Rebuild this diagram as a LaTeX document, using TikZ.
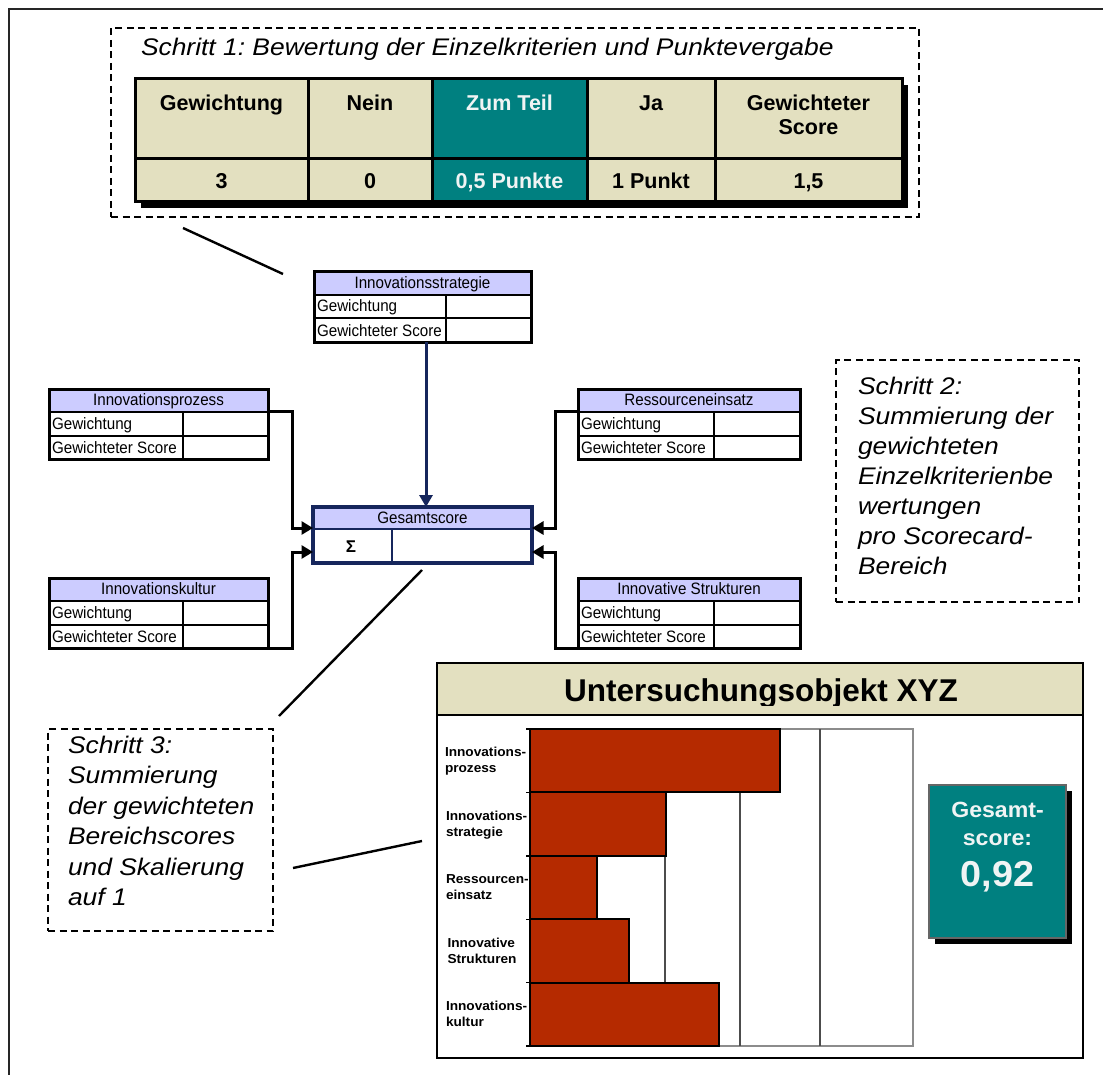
\documentclass[tikz,border=0pt]{standalone}
\usepackage{fontspec}
\setmainfont{Liberation Sans}
\newfontfamily\notefont[FakeStretch=1.1]{Liberation Sans}
\newfontfamily\areafont[FakeStretch=0.92]{Liberation Sans}
\newfontfamily\chartfont[FakeStretch=1.05]{Liberation Sans}
\usetikzlibrary{arrows.meta}
\frenchspacing

\definecolor{tablebeige}{RGB}{227,224,192}
\definecolor{scoreteal}{RGB}{0,128,128}
\definecolor{areablue}{RGB}{204,204,255}
\definecolor{sumnavy}{RGB}{22,38,92}
\definecolor{barred}{RGB}{181,42,0}
\definecolor{paletext}{RGB}{240,244,244}

\tikzset{
  every node/.style={inner sep=0pt, outer sep=0pt},
  pageframe/.style={draw=black!85, line width=2.8pt},
  notebox/.style={draw=black, line width=1.8pt, dash pattern=on 7pt off 4.5pt},
  notetext/.style={font=\notefont\itshape\fontsize{24}{30}\selectfont},
  tablerule/.style={draw=black, line width=3pt},
  tablehead/.style={anchor=base, font=\bfseries\fontsize{21.5}{24}\selectfont},
  areahead/.style={fill=areablue},
  arearule/.style={draw=black, line width=2pt},
  areaedge/.style={draw=black, line width=2.8pt},
  areaframe/.style={draw=black, line width=3pt},
  areatitle/.style={anchor=base, font=\areafont\fontsize{16.5}{18}\selectfont},
  areacell/.style={anchor=base west, font=\areafont\fontsize{16.5}{18}\selectfont},
  sumrule/.style={draw=sumnavy, line width=2.8pt},
  sumframe/.style={draw=sumnavy, line width=3.4pt},
  sumarrow/.style={draw=sumnavy, line width=3pt, -{Triangle[length=12pt,width=13pt]}},
  feed/.style={draw=black, line width=3pt, -{Triangle[length=11.5pt,width=13pt]}},
  pointer/.style={draw=black, line width=2.4pt},
  chartframe/.style={draw=black, line width=2.8pt},
  plotbox/.style={draw=black!45, line width=1.4pt},
  gridline/.style={draw=black!70, line width=1.4pt},
  bar/.style={fill=barred, draw=black, line width=2pt},
  barlabel/.style={anchor=base west, font=\chartfont\bfseries\fontsize{13}{16}\selectfont},
  scorebox/.style={fill=scoreteal, draw=black!60, line width=1.8pt},
  scoretext/.style={anchor=base, text=paletext, font=\chartfont\bfseries\fontsize{22}{26}\selectfont},
}

% category box: name, left, top, width, label column width, title
\newcommand\areabox[6]{%
  \fill[areahead] (#2,#3) rectangle ({#2+#4},{#3+23});
  \fill[white] (#2,{#3+23}) rectangle ({#2+#4},{#3+70});
  \draw[arearule] (#2,{#3+46.5}) -- ({#2+#4},{#3+46.5});
  \draw[arearule] ({#2+#5},{#3+23}) -- ({#2+#5},{#3+70});
  \draw[areaedge] (#2,{#3+23}) -- ({#2+#4},{#3+23});
  \node[areaframe, minimum width=#4, minimum height=70, anchor=north west] (#1) at (#2,#3) {};
  \node[areatitle] (#1-title) at ({#2+#4/2},{#3+16.5}) {#6};
  \node[areacell] (#1-weight) at ({#2+3},{#3+40}) {Gewichtung};
  \node[areacell] (#1-score) at ({#2+3},{#3+64}) {Gewichteter Score};
  \coordinate (#1-hr) at ({#2+#4},{#3+22});
  \coordinate (#1-hl) at (#2,{#3+22});
}

\begin{document}
\begin{tikzpicture}[x=1pt,y=-1pt]
\useasboundingbox (0,0) rectangle (1103,1075);
\fill[white] (0,0) rectangle (1103,1075);

% page frame, open to the right and bottom
\draw[pageframe] (1103,9) -- (9,9) -- (9,1075);

% ---- step 1: scoring table ----
\node[notebox, minimum width=808, minimum height=189, anchor=north west] (step1) at (111,28) {};
\node[notetext, anchor=base west] (step1-text) at (141,56) {Schritt 1: Bewertung der Einzelkriterien und Punktevergabe};

\fill[black] (141,85) rectangle (908,208);
\fill[tablebeige] (135,79) rectangle (902,202);
\fill[scoreteal] (432,79) rectangle (587,202);
\draw[tablerule] (135,79) rectangle (902,202)
  (135,159) -- (902,159)
  (308,79) -- (308,202) (432,79) -- (432,202)
  (587,79) -- (587,202) (715,79) -- (715,202);

\node[tablehead] (h-weight) at (221.5,111) {Gewichtung};
\node[tablehead] (h-no) at (370,111) {Nein};
\node[tablehead, text=paletext] (h-part) at (509.5,111) {Zum Teil};
\node[tablehead] (h-yes) at (651,111) {Ja};
\node[tablehead] (h-score1) at (808.5,111) {Gewichteter};
\node[tablehead] (h-score2) at (808.5,135) {Score};
\node[tablehead] (v-weight) at (221.5,189) {3};
\node[tablehead] (v-no) at (370,189) {0};
\node[tablehead, text=paletext] (v-part) at (509.5,189) {0,5 Punkte};
\node[tablehead] (v-yes) at (651,189) {1 Punkt};
\node[tablehead] (v-score) at (808.5,189) {1,5};

\coordinate (p1a) at (183,228);
\coordinate (p1b) at (283,274);
\draw[pointer] (p1a) -- (p1b);

% ---- scorecard areas ----
\areabox{strat}{314}{272}{217}{132}{Innovationsstrategie}
\areabox{proz}{49}{389}{219}{134}{Innovationsprozess}
\areabox{kult}{49}{578}{219}{134}{Innovationskultur}
\areabox{ress}{578}{389}{222}{136}{Ressourceneinsatz}
\areabox{struk}{578}{578}{222}{136}{Innovative Strukturen}

% ---- total score ----
\fill[areablue] (313,507) rectangle (532,529);
\fill[white] (313,529) rectangle (532,563);
\draw[sumrule] (313,529) -- (532,529) (392,529) -- (392,563);
\node[sumframe, minimum width=219, minimum height=56, anchor=north west] (gs) at (313,507) {};
\node[areatitle] (gs-title) at (422.5,523) {Gesamtscore};
\node[anchor=base, font=\bfseries\fontsize{17}{18}\selectfont] (gs-sigma) at (351,552) {Σ};
\coordinate (gs-top) at (426,507);
\coordinate (gs-in1) at (313,528);
\coordinate (gs-in2) at (313,552);
\coordinate (gs-in3) at (532,528);
\coordinate (gs-in4) at (532,552);
\coordinate (gs-low) at (422,570);

\draw[sumarrow] (strat.south -| gs-top) -- (gs-top);
\draw[feed] (proz-hr) -- ++(24,0) |- (gs-in1);
\draw[feed] (kult.south east) -- ++(24,0) |- (gs-in2);
\draw[feed] (ress-hl) -- ++(-23,0) |- (gs-in3);
\draw[feed] (struk.south west) -- ++(-23,0) |- (gs-in4);

% ---- step 2 note ----
\node[notebox, minimum width=243, minimum height=242, anchor=north west] (step2) at (836,360) {};
\node[notetext, anchor=base west] (step2-text) at (858,394)
  {\vtop{\baselineskip=30.1pt\lineskiplimit=-100pt
   \hbox{Schritt 2:}\hbox{Summierung der}\hbox{gewichteten}\hbox{Einzelkriterienbe}%
   \hbox{wertungen}\hbox{pro Scorecard-}\hbox{Bereich}}};

% ---- step 3 note ----
\node[notebox, minimum width=225, minimum height=202, anchor=north west] (step3) at (48,729) {};
\node[notetext, anchor=base west] (step3-text) at (68,753.5)
  {\vtop{\baselineskip=30.4pt\lineskiplimit=-100pt
   \hbox{Schritt 3:}\hbox{Summierung}\hbox{der gewichteten}\hbox{Bereichscores}%
   \hbox{und Skalierung}\hbox{auf 1}}};

\coordinate (p2b) at (279,716);
\draw[pointer] (gs-low) -- (p2b);
\coordinate (p3a) at (293,868);
\coordinate (p3b) at (422,841);
\draw[pointer] (p3a) -- (p3b);

% ---- result chart ----
\fill[tablebeige] (437,663) rectangle (1083,715);
\draw[chartframe] (437,715) -- (1083,715);
\node[chartframe, minimum width=646, minimum height=395, anchor=north west] (chart) at (437,663) {};
\begin{scope}
  \clip (437,663) rectangle (1083,705);
  \node[anchor=base, font=\bfseries\fontsize{31.5}{32}\selectfont] (chart-title) at (761,701.7) {Untersuchungsobjekt XYZ};
\end{scope}

\draw[plotbox] (530,729) rectangle (913,1046);
\draw[gridline] (665,729) -- (665,1046) (740,729) -- (740,1046) (820,729) -- (820,1046);
\draw[bar] (530,729) rectangle (780,792.4);
\draw[bar] (530,792.4) rectangle (665.6,855.8);
\draw[bar] (530,855.8) rectangle (596.6,919.2);
\draw[bar] (530,919.2) rectangle (628.6,982.6);
\draw[bar] (530,982.6) rectangle (718.6,1046);
\draw[black, line width=2pt] (530,729) -- (530,1046);
\foreach \yy in {729,792.4,855.8,919.2,982.6,1046}
  \draw[black, line width=1.4pt] (526,\yy) -- (530,\yy);

\node[barlabel] (lab1) at (445,756.5) {\vtop{\baselineskip=16pt\hbox{Innovations-}\hbox{prozess}}};
\node[barlabel] (lab2) at (446,820) {\vtop{\baselineskip=16pt\hbox{Innovations-}\hbox{strategie}}};
\node[barlabel] (lab3) at (446,883.5) {\vtop{\baselineskip=16pt\hbox{Ressourcen-}\hbox{einsatz}}};
\node[barlabel] (lab4) at (447.5,947) {\vtop{\baselineskip=16pt\hbox{Innovative}\hbox{Strukturen}}};
\node[barlabel] (lab5) at (446,1010.5) {\vtop{\baselineskip=16pt\hbox{Innovations-}\hbox{kultur}}};

\fill[black] (935,791) rectangle (1072,944);
\node[scorebox, minimum width=137, minimum height=153, anchor=north west] (total) at (929,785) {};
\node[scoretext] (total-1) at (997.5,817.3) {Gesamt-};
\node[scoretext] (total-2) at (997.5,845) {score:};
\node[scoretext, font=\chartfont\bfseries\fontsize{36}{40}\selectfont] (total-3) at (997.5,886.7) {0,92};
\end{tikzpicture}
\end{document}
